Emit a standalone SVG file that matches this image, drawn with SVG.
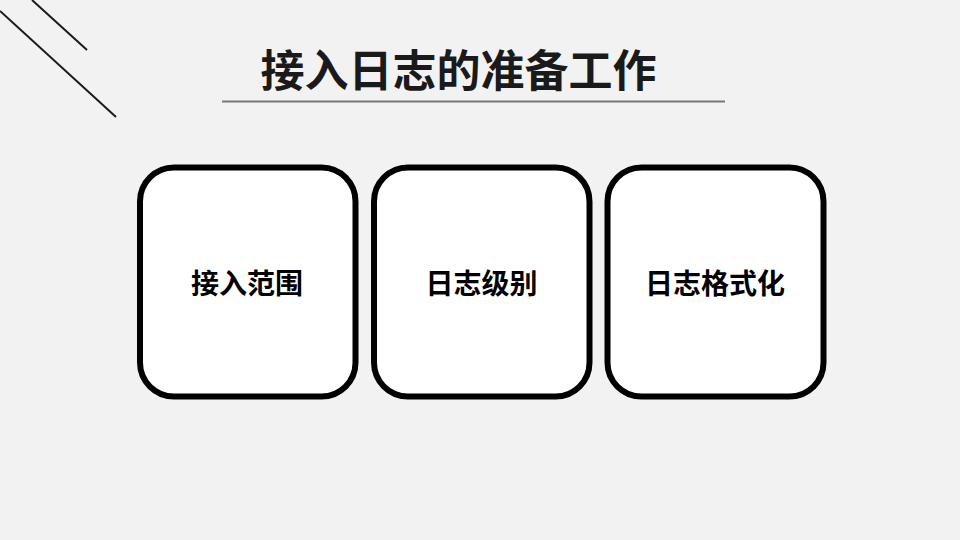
<svg xmlns="http://www.w3.org/2000/svg" width="960" height="540" viewBox="0 0 960 540">
<style>
.card{fill:#fff;stroke:#000;stroke-width:6}
.lbl{font-family:"Noto Sans CJK SC","Noto Sans",sans-serif;font-weight:bold;font-size:28px;fill:#000;text-anchor:middle}
.deco{stroke:#1a1a1a;stroke-width:2;fill:none}
</style>
<rect width="960" height="540" fill="#f2f2f2"/>
<g id="decor">
<line class="deco" x1="0" y1="11" x2="116" y2="117"/>
<line class="deco" x1="32" y1="0" x2="87" y2="50"/>
</g>
<g id="title">
<text x="458.5" y="87" font-family="'Noto Sans CJK SC','Noto Sans',sans-serif" font-weight="bold" font-size="44" fill="#1a1a1a" text-anchor="middle">接入日志的准备工作</text>
<line x1="222" y1="101.5" x2="725" y2="101.5" stroke="#777" stroke-width="2"/>
</g>
<g id="connectors"></g>
<g id="node1">
<rect class="card" x="140" y="167.5" width="215.5" height="229" rx="34"/>
<text class="lbl" x="247" y="294">接入范围</text>
</g>
<g id="node2">
<rect class="card" x="374" y="167.5" width="215.5" height="229" rx="34"/>
<text class="lbl" x="481.5" y="294">日志级别</text>
</g>
<g id="node3">
<rect class="card" x="607.5" y="167.5" width="216" height="229" rx="34"/>
<text class="lbl" x="715" y="294">日志格式化</text>
</g>
</svg>
